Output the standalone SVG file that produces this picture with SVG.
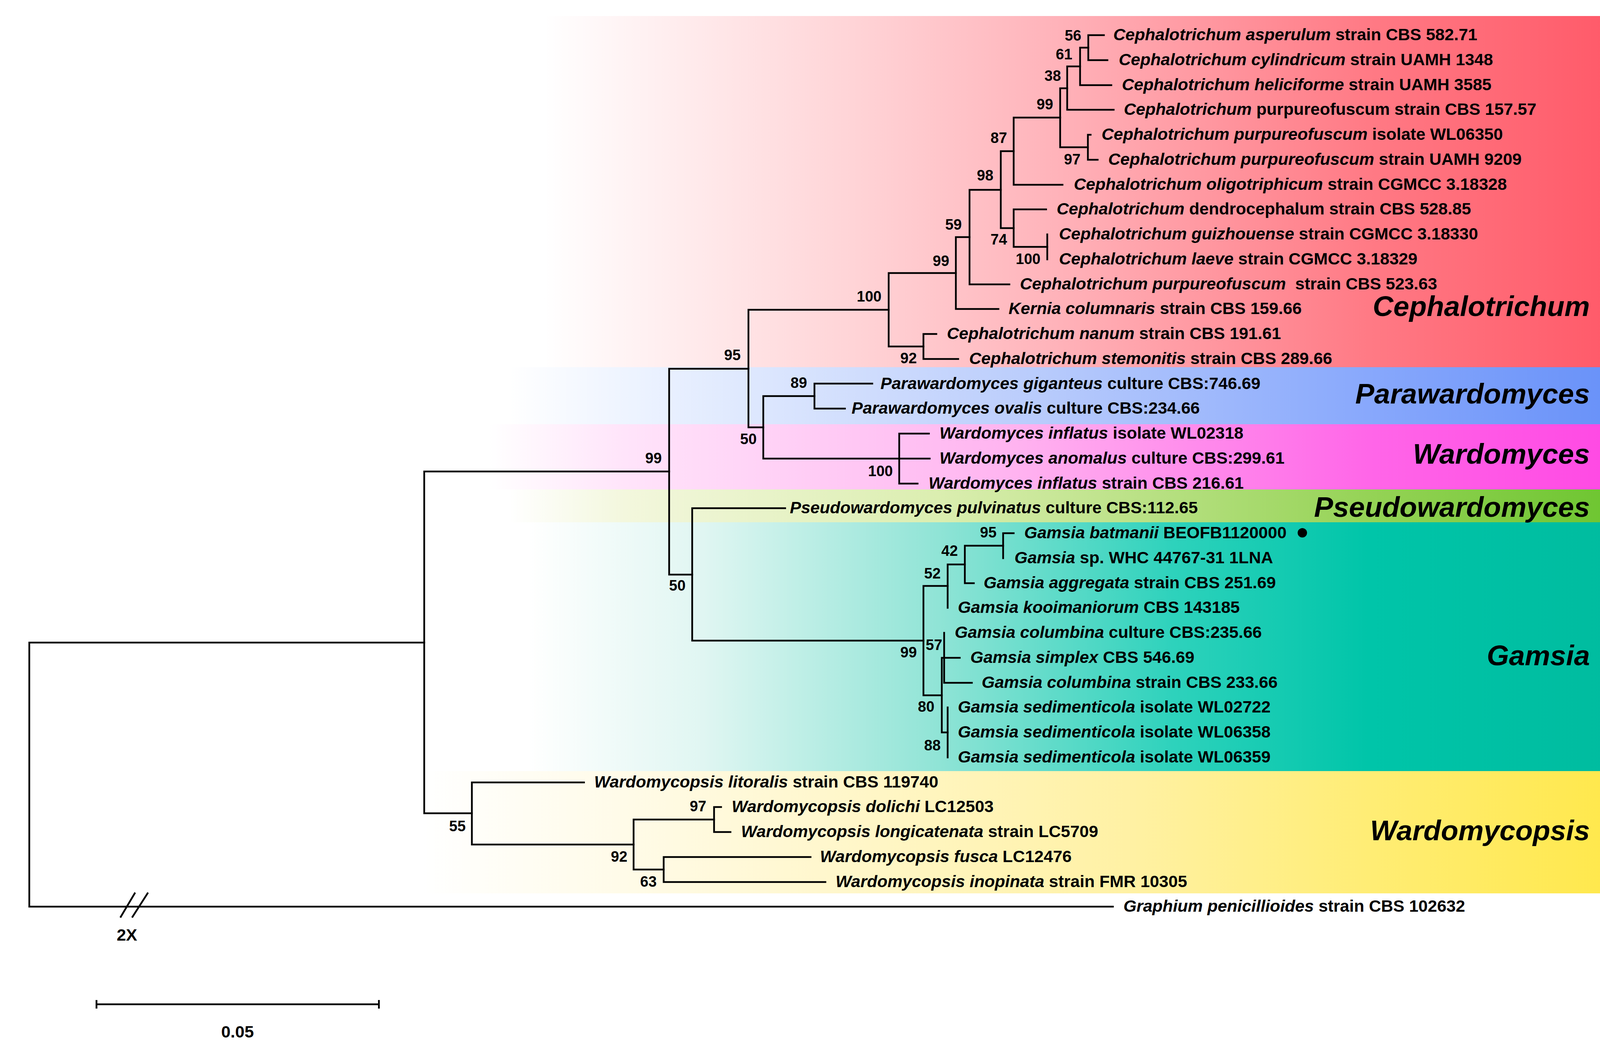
<svg xmlns="http://www.w3.org/2000/svg" width="4438" height="2688" viewBox="0 0 4438 2688">
<defs>
<style>
.br{fill:none;stroke:#000;stroke-width:4.5;stroke-linecap:square}
.tx{font-family:"Liberation Sans",Arial,Helvetica,sans-serif;font-weight:bold;font-size:43px;fill:#000}
.it{font-style:italic}
.bs{font-family:"Liberation Sans",Arial,Helvetica,sans-serif;font-weight:bold;font-size:38px;fill:#000;text-anchor:middle}
.cl{font-family:"Liberation Sans",Arial,Helvetica,sans-serif;font-weight:bold;font-style:italic;font-size:73px;fill:#000;text-anchor:end}
</style>
<linearGradient id="gC" gradientUnits="userSpaceOnUse" x1="40" y1="0" x2="4395" y2="0">
<stop offset="0" stop-color="#ffffff"/><stop offset="0.31" stop-color="#ffffff"/><stop offset="0.496" stop-color="#ffd3d6"/><stop offset="0.611" stop-color="#ffb3ba"/><stop offset="0.795" stop-color="#ff7a85"/><stop offset="1" stop-color="#ff4c5d"/>
</linearGradient>
<linearGradient id="gP" gradientUnits="userSpaceOnUse" x1="40" y1="0" x2="4395" y2="0">
<stop offset="0" stop-color="#ffffff"/><stop offset="0.29" stop-color="#ffffff"/><stop offset="0.358" stop-color="#eef4ff"/><stop offset="0.588" stop-color="#bccefc"/><stop offset="0.795" stop-color="#88a8fc"/><stop offset="1" stop-color="#5b88f7"/>
</linearGradient>
<linearGradient id="gW" gradientUnits="userSpaceOnUse" x1="40" y1="0" x2="4395" y2="0">
<stop offset="0" stop-color="#ffffff"/><stop offset="0.278" stop-color="#ffffff"/><stop offset="0.358" stop-color="#ffe4fa"/><stop offset="0.588" stop-color="#ffb3f0"/><stop offset="0.795" stop-color="#ff66e8"/><stop offset="1" stop-color="#ff3ce2"/>
</linearGradient>
<linearGradient id="gS" gradientUnits="userSpaceOnUse" x1="40" y1="0" x2="4395" y2="0">
<stop offset="0" stop-color="#ffffff"/><stop offset="0.29" stop-color="#ffffff"/><stop offset="0.358" stop-color="#f3f7dd"/><stop offset="0.542" stop-color="#dbeeb0"/><stop offset="0.795" stop-color="#95d356"/><stop offset="1" stop-color="#5cbf20"/>
</linearGradient>
<linearGradient id="gG" gradientUnits="userSpaceOnUse" x1="40" y1="0" x2="4395" y2="0">
<stop offset="0" stop-color="#ffffff"/><stop offset="0.301" stop-color="#ffffff"/><stop offset="0.404" stop-color="#e0f6f2"/><stop offset="0.542" stop-color="#90e4d6"/><stop offset="0.68" stop-color="#2ed2bc"/><stop offset="0.795" stop-color="#00c5a9"/><stop offset="1" stop-color="#00b89b"/>
</linearGradient>
<linearGradient id="gY" gradientUnits="userSpaceOnUse" x1="40" y1="0" x2="4395" y2="0">
<stop offset="0" stop-color="#ffffff"/><stop offset="0.239" stop-color="#ffffff"/><stop offset="0.358" stop-color="#fffbe8"/><stop offset="0.657" stop-color="#fff1a3"/><stop offset="0.795" stop-color="#ffed75"/><stop offset="1" stop-color="#ffe63a"/>
</linearGradient>
</defs>
<rect x="0" y="0" width="4438" height="2688" fill="#ffffff"/>
<g id="bands">
<rect x="40" y="41" width="4355" height="899" fill="url(#gC)"/>
<rect x="40" y="940" width="4355" height="146" fill="url(#gP)"/>
<rect x="40" y="1086" width="4355" height="167" fill="url(#gW)"/>
<rect x="40" y="1253" width="4355" height="84" fill="url(#gS)"/>
<rect x="40" y="1337" width="4355" height="637" fill="url(#gG)"/>
<rect x="40" y="1974" width="4355" height="313" fill="url(#gY)"/>
</g>
<g id="connectors" class="br">
<path d="M75,1645V2321M75,1645H1086M75,2321H2849"/>
<path d="M1086,1207V2082M1086,1207H1713M1086,2082H1208"/>
<path d="M1713,944V1471M1713,944H1916M1713,1471H1772"/>
<path d="M1916,793V1094M1916,793H2275M1916,1094H1954"/>
<path d="M2275,699V887M2275,699H2447M2275,887H2364"/>
<path d="M2364,855V919M2364,855H2397M2364,919H2453"/>
<path d="M2447,607V791M2447,607H2482M2447,791H2556"/>
<path d="M2482,486V728M2482,486H2562M2482,728H2584"/>
<path d="M2562,387V584M2562,387H2595M2562,584H2595"/>
<path d="M2595,301V473M2595,301H2714M2595,473H2720"/>
<path d="M2714,226V377M2714,226H2732M2714,377H2785"/>
<path d="M2732,170V281M2732,170H2765M2732,281H2851"/>
<path d="M2765,122V218M2765,122H2786M2765,218H2845"/>
<path d="M2786,90V154M2786,90H2826M2786,154H2835"/>
<path d="M2785,345V409M2785,345H2792M2785,409H2810"/>
<path d="M2595,536V632M2595,536H2678M2595,632H2681"/>
<path d="M2681,600V664"/>
<path d="M1954,1014V1174M1954,1014H2085M1954,1174H2380"/>
<path d="M2085,982V1046M2085,982H2233M2085,1046H2163"/>
<path d="M2302,1110V1238M2302,1110H2378M2302,1238H2349"/>
<path d="M1772,1301V1640M1772,1301H2010M1772,1640H2364"/>
<path d="M2364,1500V1780M2364,1500H2426M2364,1780H2411"/>
<path d="M2426,1445V1556M2426,1445H2470"/>
<path d="M2470,1397V1493M2470,1397H2568M2470,1493H2493"/>
<path d="M2568,1365V1429M2568,1365H2595"/>
<path d="M2411,1684V1875M2411,1684H2457M2411,1875H2426"/>
<path d="M2417,1620V1748M2417,1748H2488"/>
<path d="M2426,1811V1939"/>
<path d="M1208,2003V2162M1208,2003H1495M1208,2162H1622"/>
<path d="M1622,2098V2226M1622,2098H1828M1622,2226H1699"/>
<path d="M1828,2066V2130M1828,2066H1846M1828,2130H1870"/>
<path d="M1699,2194V2258M1699,2194H2075M1699,2258H2113"/>
<path d="M308,2349L346,2285M338,2349L379,2285" style="stroke-linecap:butt"/>
</g>
<g id="leaves">
<g id="t01"><text class="tx" x="2850" y="103"><tspan class="it">Cephalotrichum asperulum</tspan> strain CBS 582.71</text></g>
<g id="t02"><text class="tx" x="2864" y="167"><tspan class="it">Cephalotrichum cylindricum</tspan> strain UAMH 1348</text></g>
<g id="t03"><text class="tx" x="2872" y="231"><tspan class="it">Cephalotrichum heliciforme</tspan> strain UAMH 3585</text></g>
<g id="t04"><text class="tx" x="2877" y="294"><tspan class="it">Cephalotrichum</tspan> purpureofuscum strain CBS 157.57</text></g>
<g id="t05"><text class="tx" x="2820" y="358"><tspan class="it">Cephalotrichum purpureofuscum</tspan> isolate WL06350</text></g>
<g id="t06"><text class="tx" x="2837" y="422"><tspan class="it">Cephalotrichum purpureofuscum</tspan> strain UAMH 9209</text></g>
<g id="t07"><text class="tx" x="2749" y="486"><tspan class="it">Cephalotrichum oligotriphicum</tspan> strain CGMCC 3.18328</text></g>
<g id="t08"><text class="tx" x="2705" y="549"><tspan class="it">Cephalotrichum</tspan> dendrocephalum strain CBS 528.85</text></g>
<g id="t09"><text class="tx" x="2711" y="613"><tspan class="it">Cephalotrichum guizhouense</tspan> strain CGMCC 3.18330</text></g>
<g id="t10"><text class="tx" x="2711" y="677"><tspan class="it">Cephalotrichum laeve</tspan> strain CGMCC 3.18329</text></g>
<g id="t11"><text class="tx" x="2611" y="741"><tspan class="it">Cephalotrichum purpureofuscum</tspan><tspan dx="12"> strain CBS 523.63</tspan></text></g>
<g id="t12"><text class="tx" x="2582" y="804"><tspan class="it">Kernia columnaris</tspan> strain CBS 159.66</text></g>
<g id="t13"><text class="tx" x="2424" y="868"><tspan class="it">Cephalotrichum nanum</tspan> strain CBS 191.61</text></g>
<g id="t14"><text class="tx" x="2481" y="932"><tspan class="it">Cephalotrichum stemonitis</tspan> strain CBS 289.66</text></g>
<g id="t15"><text class="tx" x="2254" y="996"><tspan class="it">Parawardomyces giganteus</tspan> culture CBS:746.69</text></g>
<g id="t16"><text class="tx" x="2180" y="1059"><tspan class="it">Parawardomyces ovalis</tspan> culture CBS:234.66</text></g>
<g id="t17"><text class="tx" x="2405" y="1123"><tspan class="it">Wardomyces inflatus</tspan> isolate WL02318</text></g>
<g id="t18"><text class="tx" x="2405" y="1187"><tspan class="it">Wardomyces anomalus</tspan> culture CBS:299.61</text></g>
<g id="t19"><text class="tx" x="2377" y="1251"><tspan class="it">Wardomyces inflatus</tspan> strain CBS 216.61</text></g>
<g id="t20"><text class="tx" x="2022" y="1314"><tspan class="it">Pseudowardomyces pulvinatus</tspan> culture CBS:112.65</text></g>
<g id="t21"><text class="tx" x="2622" y="1378"><tspan class="it">Gamsia batmanii</tspan> BEOFB1120000</text><circle cx="3334" cy="1364" r="12" fill="#000"/></g>
<g id="t22"><text class="tx" x="2597" y="1442"><tspan class="it">Gamsia</tspan> sp. WHC 44767-31 1LNA</text></g>
<g id="t23"><text class="tx" x="2518" y="1506"><tspan class="it">Gamsia aggregata</tspan> strain CBS 251.69</text></g>
<g id="t24"><text class="tx" x="2452" y="1569"><tspan class="it">Gamsia kooimaniorum</tspan> CBS 143185</text></g>
<g id="t25"><text class="tx" x="2444" y="1633"><tspan class="it">Gamsia columbina</tspan> culture CBS:235.66</text></g>
<g id="t26"><text class="tx" x="2484" y="1697"><tspan class="it">Gamsia simplex</tspan> CBS 546.69</text></g>
<g id="t27"><text class="tx" x="2513" y="1761"><tspan class="it">Gamsia columbina</tspan> strain CBS 233.66</text></g>
<g id="t28"><text class="tx" x="2452" y="1824"><tspan class="it">Gamsia sedimenticola</tspan> isolate WL02722</text></g>
<g id="t29"><text class="tx" x="2452" y="1888"><tspan class="it">Gamsia sedimenticola</tspan> isolate WL06358</text></g>
<g id="t30"><text class="tx" x="2452" y="1952"><tspan class="it">Gamsia sedimenticola</tspan> isolate WL06359</text></g>
<g id="t31"><text class="tx" x="1521" y="2016"><tspan class="it">Wardomycopsis litoralis</tspan> strain CBS 119740</text></g>
<g id="t32"><text class="tx" x="1873" y="2079"><tspan class="it">Wardomycopsis dolichi</tspan> LC12503</text></g>
<g id="t33"><text class="tx" x="1897" y="2143"><tspan class="it">Wardomycopsis longicatenata</tspan> strain LC5709</text></g>
<g id="t34"><text class="tx" x="2099" y="2207"><tspan class="it">Wardomycopsis fusca</tspan> LC12476</text></g>
<g id="t35"><text class="tx" x="2139" y="2271"><tspan class="it">Wardomycopsis inopinata</tspan> strain FMR 10305</text></g>
<g id="t36"><text class="tx" x="2876" y="2334"><tspan class="it">Graphium penicillioides</tspan> strain CBS 102632</text></g>
</g>
<g id="support">
<g id="n56"><text class="bs" x="2747" y="104">56</text></g>
<g id="n61"><text class="bs" x="2724" y="152">61</text></g>
<g id="n38"><text class="bs" x="2695" y="207">38</text></g>
<g id="n99a"><text class="bs" x="2675" y="280">99</text></g>
<g id="n87"><text class="bs" x="2557" y="366">87</text></g>
<g id="n97"><text class="bs" x="2745" y="421">97</text></g>
<g id="n98"><text class="bs" x="2522" y="462">98</text></g>
<g id="n74"><text class="bs" x="2557" y="626">74</text></g>
<g id="n100a"><text class="bs" x="2632" y="676">100</text></g>
<g id="n59"><text class="bs" x="2441" y="588">59</text></g>
<g id="n99b"><text class="bs" x="2409" y="681">99</text></g>
<g id="n100b"><text class="bs" x="2225" y="772">100</text></g>
<g id="n92"><text class="bs" x="2326" y="930">92</text></g>
<g id="n95"><text class="bs" x="1875" y="922">95</text></g>
<g id="n89"><text class="bs" x="2045" y="993">89</text></g>
<g id="n50a"><text class="bs" x="1916" y="1137">50</text></g>
<g id="n100c"><text class="bs" x="2254" y="1219">100</text></g>
<g id="n99c"><text class="bs" x="1673" y="1186">99</text></g>
<g id="n50b"><text class="bs" x="1734" y="1512">50</text></g>
<g id="n95g"><text class="bs" x="2530" y="1376">95</text></g>
<g id="n42"><text class="bs" x="2431" y="1423">42</text></g>
<g id="n52"><text class="bs" x="2387" y="1481">52</text></g>
<g id="n99g"><text class="bs" x="2326" y="1683">99</text></g>
<g id="n57"><text class="bs" x="2391" y="1664">57</text></g>
<g id="n80"><text class="bs" x="2371" y="1822">80</text></g>
<g id="n88"><text class="bs" x="2387" y="1921">88</text></g>
<g id="n55"><text class="bs" x="1171" y="2128">55</text></g>
<g id="n97w"><text class="bs" x="1787" y="2077">97</text></g>
<g id="n92w"><text class="bs" x="1585" y="2206">92</text></g>
<g id="n63"><text class="bs" x="1660" y="2270">63</text></g>
</g>
<g id="clades">
<g id="c-ceph"><text class="cl" x="4070" y="809">Cephalotrichum</text></g>
<g id="c-para"><text class="cl" x="4070" y="1033">Parawardomyces</text></g>
<g id="c-ward"><text class="cl" x="4070" y="1187">Wardomyces</text></g>
<g id="c-pseudo"><text class="cl" x="4070" y="1323">Pseudowardomyces</text></g>
<g id="c-gamsia"><text class="cl" x="4070" y="1703">Gamsia</text></g>
<g id="c-wardcop"><text class="cl" x="4070" y="2151">Wardomycopsis</text></g>
</g>
<g id="scale">
<text class="bs" x="325" y="2408" style="font-size:43px">2X</text>
<path class="br" d="M247,2571H970M247,2560V2582M970,2560V2582" style="stroke-linecap:butt"/>
<text class="bs" x="608" y="2656" style="font-size:43px">0.05</text>
</g>
</svg>
